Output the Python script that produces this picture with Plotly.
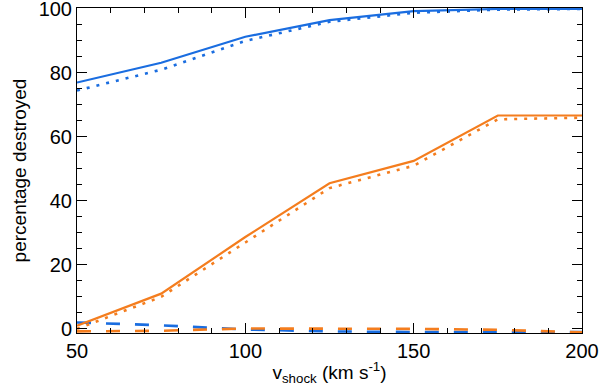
import plotly.graph_objects as go

# shock velocities (km/s)
v_shock = [50, 75, 100, 125, 150, 175, 200]

# percentage destroyed
blue_solid = [77.0, 83.2, 91.3, 96.5, 99.3, 100.0, 100.0]
blue_dot = [74.5, 81.0, 90.0, 96.0, 98.8, 99.8, 100.0]
blue_dash = [2.0, 1.1, -0.2, -0.8, -1.0, -1.0, -1.0]

orange_solid = [1.0, 11.0, 28.7, 45.5, 52.5, 66.7, 66.7]
orange_dot = [0.0, 10.0, 27.0, 44.0, 51.0, 65.5, 66.0]
orange_dash = [-0.8, -0.6, 0.1, 0.1, 0.0, -0.3, -1.1]

BLUE = "#1a6de0"
ORANGE = "#f47d1e"
FONT = "Liberation Sans, Arial"

fig = go.Figure()

# (values, colour, dash pattern, width)
series = [
    (blue_dash, BLUE, "14px,15px", 2.6),
    (orange_dash, ORANGE, "14px,15px", 2.6),
    (blue_dot, BLUE, "3px,7px", 2.6),
    (orange_dot, ORANGE, "3px,7px", 2.6),
    (blue_solid, BLUE, "solid", 2.2),
    (orange_solid, ORANGE, "solid", 2.2),
]
for ys, col, dash, w in series:
    fig.add_trace(go.Scatter(
        x=v_shock, y=ys, mode="lines",
        line=dict(color=col, width=w, dash=dash),
        showlegend=False,
    ))

axis_common = dict(
    showgrid=False, zeroline=False, automargin=False,
    showline=True, linecolor="black", linewidth=1,
    mirror="allticks", ticks="inside", ticklen=10, tickcolor="black",
    ticklabeloverflow="allow",
    tickfont=dict(family=FONT, size=20, color="black"),
)

fig.update_xaxes(
    range=[50, 200], tickvals=[50, 100, 150, 200],
    minor=dict(dtick=10, ticks="inside", ticklen=5, tickcolor="black"),
    title=dict(text="v<sub>shock</sub> (km s<sup>-1</sup>)",
               font=dict(family=FONT, size=19, color="black"),
               standoff=4),
    **axis_common,
)
fig.update_yaxes(
    range=[-1.3, 100.3], tickvals=[0, 20, 40, 60, 80, 100],
    minor=dict(dtick=5, ticks="inside", ticklen=5, tickcolor="black"),
    title=dict(text="percentage destroyed",
               font=dict(family=FONT, size=19, color="black"),
               standoff=6),
    **axis_common,
)

fig.update_layout(
    width=600, height=391,
    margin=dict(l=77, r=18, t=8, b=58),
    plot_bgcolor="white", paper_bgcolor="white",
)

# drop the page's default body margin so the figure sits at the top-left corner
fig.write_html("out.html", config={"displayModeBar": False},
               post_script="document.body.style.margin='0';")
